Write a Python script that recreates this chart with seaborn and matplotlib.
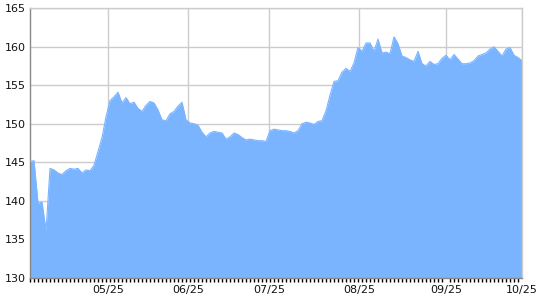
import matplotlib
matplotlib.use("Agg")
import matplotlib.pyplot as plt
import seaborn as sns
import numpy as np
import pandas as pd

values = [
    145.1, 145.2, 139.7, 139.8, 136.1, 144.2, 144.0, 143.6, 143.4, 143.9,
    144.2, 144.1, 144.2, 143.6, 144.0, 143.9, 144.6, 146.4, 148.2, 150.9,
    153.0, 153.5, 154.1, 152.7, 153.4, 152.6, 152.8, 152.0, 151.6, 152.4,
    152.9, 152.7, 151.8, 150.5, 150.4, 151.3, 151.6, 152.3, 152.8, 150.5,
    150.1, 150.0, 149.8, 148.9, 148.3, 148.8, 149.0, 148.9, 148.8, 148.0,
    148.3, 148.8, 148.6, 148.2, 147.9, 148.0, 147.9, 147.8, 147.8, 147.7,
    149.1, 149.3, 149.2, 149.1, 149.1, 149.0, 148.8, 149.1, 150.0, 150.2,
    150.1, 149.9, 150.3, 150.4, 151.7, 153.7, 155.5, 155.6, 156.7, 157.2,
    156.8, 157.9, 159.9, 159.4, 160.5, 160.5, 159.4, 161.0, 159.2, 159.3,
    159.1, 161.3, 160.4, 158.8, 158.6, 158.3, 158.1, 159.4, 157.8, 157.5,
    158.1, 157.7, 157.8, 158.5, 158.9, 158.3, 159.0, 158.4, 157.8, 157.8,
    157.9, 158.2, 158.8, 159.0, 159.2, 159.7, 160.0, 159.4, 158.8, 159.7,
    159.9, 158.9, 158.6, 158.2,
]
month_labels = ["05/25", "06/25", "07/25", "08/25", "09/25", "10/25"]
y_ticks = [130, 135, 140, 145, 150, 155, 160, 165]

# layout (tick positions in data-index units)
month_pos = [19.6, 39.6, 59.8, 82.3, 104.0, 123.0]

df = pd.DataFrame({"idx": np.arange(len(values)), "value": values})

sns.set_style("white")
plt.rcParams["font.family"] = ["DejaVu Sans"]

fig = plt.figure(figsize=(5.4, 3.0), dpi=100)
ax = fig.add_axes([30 / 540, 1 - 277.7 / 300, (522 - 30) / 540, (277.7 - 8.3) / 300])

fill_color = "#7ab4ff"
ax.fill_between(df["idx"], df["value"], 130, color=fill_color, linewidth=0, zorder=2)
sns.lineplot(data=df, x="idx", y="value", ax=ax, color=fill_color, linewidth=0.8, zorder=3)

ax.set_xlim(0, len(values) - 1)
ax.set_ylim(130, 165)
ax.set_yticks(y_ticks)
ax.set_yticklabels([str(v) for v in y_ticks], fontsize=8, color="#111111")
ax.set_xticks(month_pos)
ax.set_xticklabels(month_labels, fontsize=8, color="#111111")
ax.set_xticks(np.arange(len(values)), minor=True)

ax.tick_params(axis="y", length=0, pad=3)
ax.tick_params(axis="x", which="major", length=3, width=1, color="black", pad=2, direction="out")
ax.tick_params(axis="x", which="minor", length=3, width=1, color="black", direction="out", bottom=True)

ax.grid(True, which="major", color="#cccccc", linewidth=1)
ax.set_axisbelow(True)
ax.set_xlabel("")
ax.set_ylabel("")

for s in ["top", "right"]:
    ax.spines[s].set_color("#cccccc")
    ax.spines[s].set_linewidth(1)
ax.spines["left"].set_color("#888888")
ax.spines["left"].set_linewidth(1)
ax.spines["bottom"].set_color("#888888")
ax.spines["bottom"].set_linewidth(1)
ax.spines["bottom"].set_zorder(5)

fig.savefig("out.png", dpi=100)
